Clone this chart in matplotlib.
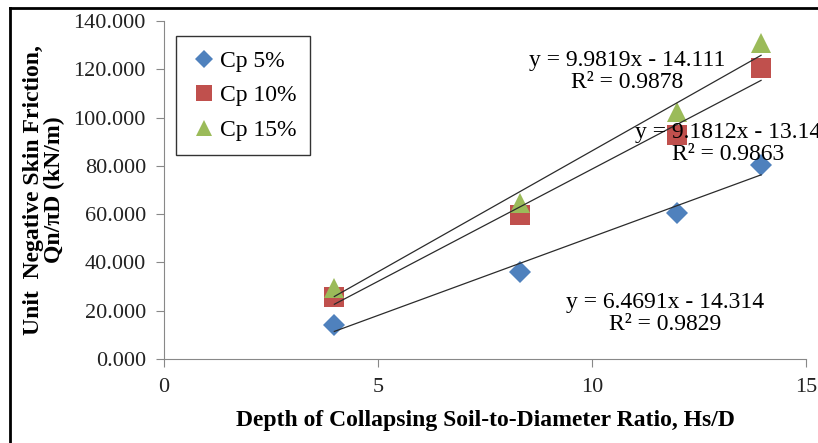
import numpy as np
import matplotlib
matplotlib.use("Agg")
import matplotlib.pyplot as plt
from matplotlib.lines import Line2D

# data
hs_d = [3.98, 8.32, 11.98, 13.95]
cp5 = [14.1, 35.9, 60.6, 80.2]
cp10 = [25.5, 59.6, 92.6, 120.5]
cp15 = [29.3, 64.6, 102.4, 130.8]
labels = ["Cp 5%", "Cp 10%", "Cp 15%"]
eq_text = ["y = 6.4691x - 14.314\nR² = 0.9829",
           "y = 9.1812x - 13.14\nR² = 0.9863",
           "y = 9.9819x - 14.111\nR² = 0.9878"]
yticks = [0, 20, 40, 60, 80, 100, 120, 140]
xticks = [0, 5, 10, 15]

plt.rcParams['font.family'] = ['Liberation Serif', 'DejaVu Serif']

W, H = 818, 443
fig = plt.figure(figsize=(W / 100, H / 100), dpi=100)
ax = fig.add_axes([164 / W, 1 - 359 / H, 642 / W, 338 / H])

colors = ["#4F81BD", "#C0504D", "#9BBB59"]
markers = ["D", "s", "^"]
msizes = [11.5, 14, 15]
series = [cp5, cp10, cp15]

for ys, c, m, ms, lab in zip(series, colors, markers, msizes, labels):
  ax.plot(hs_d, ys, linestyle="none", marker=m, color=c, markersize=ms,
          markeredgewidth=0, label=lab, zorder=3)
  # linear trendline like excel
  k, b = np.polyfit(hs_d, ys, 1)
  xx = np.array([hs_d[0], hs_d[-1]])
  ax.plot(xx, k * xx + b, color="#2b2b2b", linewidth=0.9, zorder=4)

# equations
ax.text(11.7, 18.8, eq_text[0], ha="center", va="center", fontsize=17, linespacing=1.05, zorder=5)
ax.text(11.0, 89.3, eq_text[1], ha="left", va="center", fontsize=17, linespacing=1.05, zorder=5, multialignment="center")
ax.text(10.82, 119.1, eq_text[2], ha="center", va="center", fontsize=17, linespacing=1.05, zorder=5)

ax.set_xlim(0, 15)
ax.set_ylim(0, 140)
ax.set_xticks(xticks)
ax.set_yticks(yticks)
ax.set_yticklabels(["%.3f" % v for v in yticks])
for s in ["top", "right"]:
  ax.spines[s].set_visible(False)
for s in ["left", "bottom"]:
  ax.spines[s].set_color("#888888")
ax.tick_params(colors="#888888", labelcolor="#222222", labelsize=16, length=6, direction="out")
ax.tick_params(axis="y", pad=7)
ax.tick_params(axis="x", pad=8)

leg = ax.legend(loc="upper left", bbox_to_anchor=(0.0187, 0.955), borderaxespad=0,
                fontsize=17, frameon=True, fancybox=False, edgecolor="black",
                handletextpad=0.05, handlelength=1.2, labelspacing=0.55,
                borderpad=0.6, markerscale=0.8)
leg.get_frame().set_linewidth(1.0)

ax.set_xlabel("Depth of Collapsing Soil-to-Diameter Ratio, Hs/D", fontsize=17, fontweight="bold")
ax.xaxis.set_label_coords(0.5, -0.15)
fig.text(44 / W, 1 - 190 / H, "Unit  Negative Skin Friction,\nQn/πD (kN/m)", rotation=90,
         ha="center", va="center", fontsize=17, fontweight="bold", linespacing=1.0)

# outer frame (cut on right and bottom)
fig.add_artist(Line2D([10 / W, 10 / W], [0, 1 - 8 / H], color="black", linewidth=2, transform=fig.transFigure))
fig.add_artist(Line2D([10 / W, 1.0], [1 - 8 / H, 1 - 8 / H], color="black", linewidth=2, transform=fig.transFigure))

plt.savefig("out.png", dpi=100)
